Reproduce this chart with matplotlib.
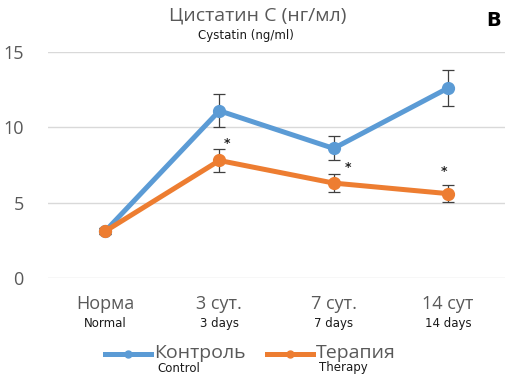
import matplotlib
matplotlib.use("Agg")
import matplotlib.pyplot as plt
from matplotlib.lines import Line2D

plt.rcParams['font.family'] = ['Open Sans', 'DejaVu Sans']

categories_ru = ["Норма", "3 сут.", "7 сут.", "14 сут"]
categories_en = ["Normal", "3 days", "7 days", "14 days"]
control = [3.1, 11.1, 8.6, 12.6]
control_err = [0.2, 1.1, 0.8, 1.2]
therapy = [3.1, 7.8, 6.3, 5.6]
therapy_err = [0.2, 0.75, 0.6, 0.55]
star_idx = [1, 2, 3]
yticks = [0, 5, 10, 15]

blue = "#5B9BD5"
orange = "#ED7D31"
grey = "#595959"
en_font = "DejaVu Sans"

fig = plt.figure(figsize=(5.1, 3.8), dpi=100)
ax = fig.add_axes([48/510, 1-278/380, 457/510, 226/380])
x = list(range(len(categories_ru)))

ax.errorbar(x, control, yerr=control_err, color=blue, lw=3.6, marker='o', ms=8.5,
            ecolor="#404040", elinewidth=0.9, capsize=4, capthick=0.9, zorder=3)
ax.errorbar(x, therapy, yerr=therapy_err, color=orange, lw=3.6, marker='o', ms=8.5,
            ecolor="#404040", elinewidth=0.9, capsize=4, capthick=0.9, zorder=3)

star_dx = {1: 0.07, 2: 0.13, 3: -0.03}
star_dy = {1: 0.35, 2: 0.45, 3: 0.9}
for i in star_idx:
    ax.text(i + star_dx[i], therapy[i] + therapy_err[i] + star_dy[i], "*",
            ha='center', va='center', fontsize=9, fontweight='bold',
            color='#222222', family='DejaVu Sans')

ax.set_xlim(-0.5, 3.5)
ax.set_ylim(0, 15)
ax.set_yticks(yticks)
ax.set_yticklabels([str(v) for v in yticks], fontsize=13, color=grey)
ax.tick_params(axis='y', length=0, pad=17.5)
ax.tick_params(axis='x', length=0, labelbottom=False)
ax.grid(axis='y', color="#d9d9d9", lw=1)
ax.set_axisbelow(True)
for s in ax.spines.values():
    s.set_visible(False)

for i in x:
    ax.text(i, -1.75, categories_ru[i], ha='center', va='center', fontsize=13,
            color=grey)
    ax.text(i, -3.0, categories_en[i], ha='center', va='center', fontsize=8.5,
            color='#1a1a1a', family=en_font)

fig.text(258/510, 1-15/380, "Цистатин С (нг/мл)", ha='center', va='center',
         fontsize=14, color=grey)
fig.text(246/510, 1-36/380, "Cystatin (ng/ml)", ha='center', va='center',
         fontsize=8.5, color='#1a1a1a', family=en_font)
fig.text(494/510, 1-20/380, "B", ha='center', va='center', fontsize=14,
         fontweight='bold', color='black', family='DejaVu Sans')

# legend
for (x0, col, ru, en) in [(105, blue, "Контроль", "Control"),
                          (267, orange, "Терапия", "Therapy")]:
    y0 = 1 - 354/380
    fig.add_artist(Line2D([x0/510, (x0+46)/510], [y0, y0], color=col, lw=3.6,
                          transform=fig.transFigure))
    fig.add_artist(Line2D([(x0+23)/510], [y0], color=col, marker='o', ms=5,
                          transform=fig.transFigure))
    fig.text((x0+49)/510, y0 + 0.003, ru, ha='left', va='center', fontsize=14, color=grey)
    fig.text((x0+52)/510, 1-368/380, en, ha='left', va='center', fontsize=8.5,
             color='#1a1a1a', family=en_font)

fig.savefig("out.png", dpi=100)
